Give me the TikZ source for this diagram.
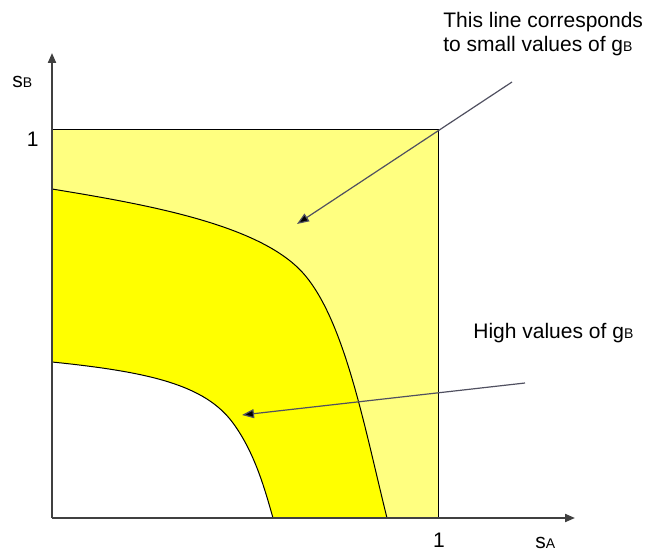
\documentclass[tikz,border=0pt]{standalone}
\usepackage{fontspec}
\setmainfont{Liberation Sans}
\usetikzlibrary{arrows.meta,positioning}
\definecolor{paleyel}{RGB}{255,255,128}
\definecolor{brightyel}{RGB}{255,255,0}
\definecolor{axisgray}{RGB}{64,64,64}
\definecolor{pointgray}{RGB}{80,80,96}
\newcommand{\lowcap}[1]{{\fontsize{7}{8}\selectfont #1}}

\begin{document}
\begin{tikzpicture}[x=0.5pt,y=-0.5pt,
    lbl/.style={font=\fontsize{10.5}{12}\selectfont, inner sep=0pt},
    axisline/.style={axisgray, line width=1pt, -{Triangle[length=5pt,width=4pt]}},
    pointer/.style={pointgray, line width=0.6pt, -{Triangle[length=6pt,width=4.5pt,fill=black]}},
    curve/.style={black, line width=0.5pt}]
        \useasboundingbox (0,0) rectangle (646,550);
        \coordinate (O) at (52,518);
        \coordinate (topleft) at (52,130);
        \coordinate (corner) at (438,130);
        \coordinate (right) at (438,518);
        \coordinate (outstart) at (52,189);
        \coordinate (outbend) at (303,273);
        \coordinate (outend) at (387,518);
        \coordinate (instart) at (52,362);
        \coordinate (inbend) at (233,423);
        \coordinate (inend) at (273,518);
        % shaded regions
        \fill[paleyel] (O) rectangle (corner);
        \fill[white] (O) -- (instart) .. controls (150,372) and (205,385) .. (inbend)
          .. controls (255,453) and (265,490) .. (inend) -- cycle;
        \fill[brightyel] (outstart) .. controls (150,205) and (260,225) .. (outbend)
          .. controls (345,320) and (365,430) .. (outend) -- (inend)
          .. controls (265,490) and (255,453) .. (inbend)
          .. controls (205,385) and (150,372) .. (instart) -- cycle;
        % the two lines
        \draw[curve] (outstart) .. controls (150,205) and (260,225) .. (outbend)
          .. controls (345,320) and (365,430) .. (outend);
        \draw[curve] (instart) .. controls (150,372) and (205,385) .. (inbend)
          .. controls (255,453) and (265,490) .. (inend);
        \draw[curve] (topleft) -- (corner) -- (right);
        % axes
        \draw[axisline] (O) -- (52,53);
        \draw[axisline] (O) -- (575,518);
        \node[lbl, anchor=base east] (oneB) at (39,147) {1};
        \node[lbl, anchor=base] (oneA) at (439,547) {1};
        \node[lbl, anchor=base west] (sB) at (12,88) {s\lowcap{B}};
        \node[lbl, anchor=base west] (sA) at (535,548) {s\lowcap{A}};
        % annotations
        \node[lbl, anchor=base west] (smalltxt) at (443,28) {This line corresponds};
        \node[lbl, anchor=base west] (smalltxt2) at (443,52) {to small values of g\lowcap{B}};
        \node[lbl, anchor=base west] (hightxt) at (473,338) {High values of g\lowcap{B}};
        \coordinate (smalltail) at (512,82);
        \coordinate (smalltip) at (297,224);
        \coordinate (hightail) at (525,383);
        \coordinate (hightip) at (242,415);
        \draw[pointer] (smalltail) -- (smalltip);
        \draw[pointer] (hightail) -- (hightip);
      \end{tikzpicture}
\end{document}
